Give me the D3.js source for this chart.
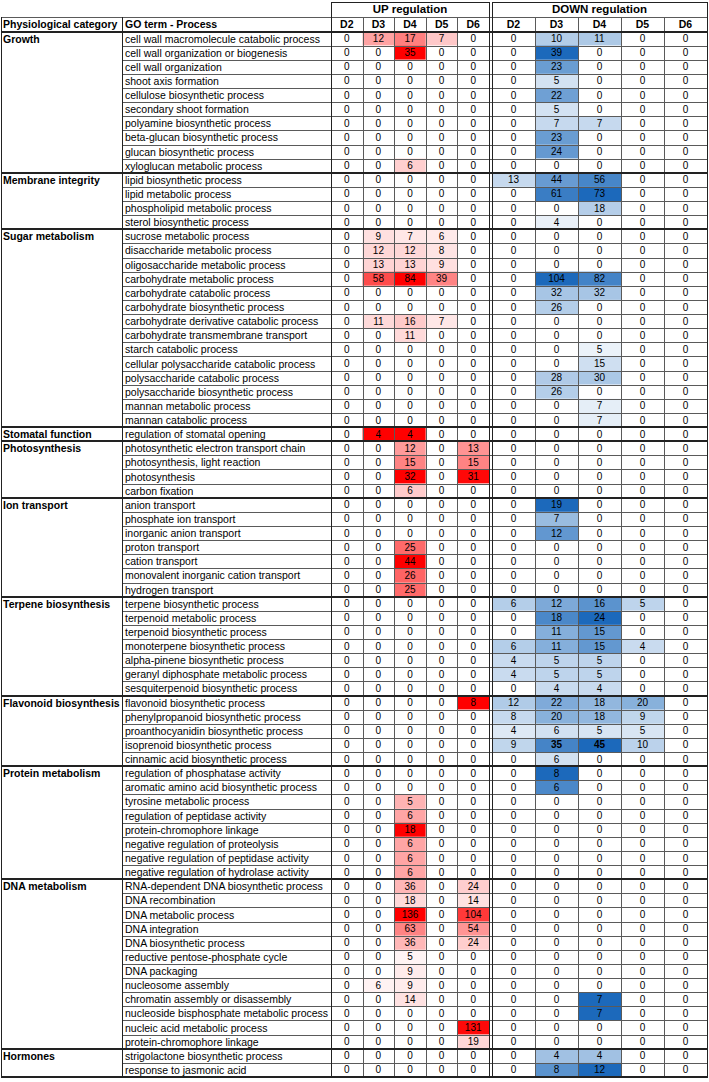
<!DOCTYPE html>
<html><head><meta charset="utf-8">
<script src="https://cdn.jsdelivr.net/npm/d3@7"></script>
<style>body{margin:0;background:#fff}svg{display:block}</style>
</head><body><svg id="c" width="709" height="1082"></svg>
<script>
const groups = ["Growth","Membrane integrity","Sugar metabolism","Stomatal function","Photosynthesis","Ion transport","Terpene biosynthesis","Flavonoid biosynthesis","Protein metabolism","DNA metabolism","Hormones"];
const groupSizes = [10,4,14,1,4,7,7,5,8,12,2];
const days = ["D2","D3","D4","D5","D6"];
const terms = [
"cell wall macromolecule catabolic process","cell wall organization or biogenesis","cell wall organization","shoot axis formation","cellulose biosynthetic process","secondary shoot formation","polyamine biosynthetic process","beta-glucan biosynthetic process","glucan biosynthetic process","xyloglucan metabolic process",
"lipid biosynthetic process","lipid metabolic process","phospholipid metabolic process","sterol biosynthetic process",
"sucrose metabolic process","disaccharide metabolic process","oligosaccharide metabolic process","carbohydrate metabolic process","carbohydrate catabolic process","carbohydrate biosynthetic process","carbohydrate derivative catabolic process","carbohydrate transmembrane transport","starch catabolic process","cellular polysaccharide catabolic process","polysaccharide catabolic process","polysaccharide biosynthetic process","mannan metabolic process","mannan catabolic process",
"regulation of stomatal opening",
"photosynthetic electron transport chain","photosynthesis, light reaction","photosynthesis","carbon fixation",
"anion transport","phosphate ion transport","inorganic anion transport","proton transport","cation transport","monovalent inorganic cation transport","hydrogen transport",
"terpene biosynthetic process","terpenoid metabolic process","terpenoid biosynthetic process","monoterpene biosynthetic process","alpha-pinene biosynthetic process","geranyl diphosphate metabolic process","sesquiterpenoid biosynthetic process",
"flavonoid biosynthetic process","phenylpropanoid biosynthetic process","proanthocyanidin biosynthetic process","isoprenoid biosynthetic process","cinnamic acid biosynthetic process",
"regulation of phosphatase activity","aromatic amino acid biosynthetic process","tyrosine metabolic process","regulation of peptidase activity","protein-chromophore linkage","negative regulation of proteolysis","negative regulation of peptidase activity","negative regulation of hydrolase activity",
"RNA-dependent DNA biosynthetic process","DNA recombination","DNA metabolic process","DNA integration","DNA biosynthetic process","reductive pentose-phosphate cycle","DNA packaging","nucleosome assembly","chromatin assembly or disassembly","nucleoside bisphosphate metabolic process","nucleic acid metabolic process","protein-chromophore linkage",
"strigolactone biosynthetic process","response to jasmonic acid"];

// UP regulation, per day (74 rows each)
const upD2 = Array(74).fill(0);
const upD3 = [12,0,0,0,0,0,0,0,0,0, 0,0,0,0, 9,12,13,58,0,0,11,0,0,0,0,0,0,0, 4, 0,0,0,0, 0,0,0,0,0,0,0, 0,0,0,0,0,0,0, 0,0,0,0,0, 0,0,0,0,0,0,0,0, 0,0,0,0,0,0,0,6,0,0,0,0, 0,0];
const upD4 = [17,35,0,0,0,0,0,0,0,6, 0,0,0,0, 7,12,13,84,0,0,16,11,0,0,0,0,0,0, 4, 12,15,32,6, 0,0,0,25,44,26,25, 0,0,0,0,0,0,0, 0,0,0,0,0, 0,0,5,6,18,6,6,6, 36,18,136,63,36,5,9,9,14,0,0,0, 0,0];
const upD5 = [7,0,0,0,0,0,0,0,0,0, 0,0,0,0, 6,8,9,39,0,0,7,0,0,0,0,0,0,0, 0, 0,0,0,0, 0,0,0,0,0,0,0, 0,0,0,0,0,0,0, 0,0,0,0,0, 0,0,0,0,0,0,0,0, 0,0,0,0,0,0,0,0,0,0,0,0, 0,0];
const upD6 = [0,0,0,0,0,0,0,0,0,0, 0,0,0,0, 0,0,0,0,0,0,0,0,0,0,0,0,0,0, 0, 13,15,31,0, 0,0,0,0,0,0,0, 0,0,0,0,0,0,0, 8,0,0,0,0, 0,0,0,0,0,0,0,0, 24,14,104,54,24,0,0,0,0,0,131,19, 0,0];
// DOWN regulation, per day
const downD2 = [0,0,0,0,0,0,0,0,0,0, 13,0,0,0, 0,0,0,0,0,0,0,0,0,0,0,0,0,0, 0, 0,0,0,0, 0,0,0,0,0,0,0, 6,0,0,6,4,4,0, 12,8,4,9,0, 0,0,0,0,0,0,0,0, 0,0,0,0,0,0,0,0,0,0,0,0, 0,0];
const downD3 = [10,39,23,5,22,5,7,23,24,0, 44,61,0,4, 0,0,0,104,32,26,0,0,0,0,28,26,0,0, 0, 0,0,0,0, 19,7,12,0,0,0,0, 12,18,11,11,5,5,4, 22,20,6,35,6, 8,6,0,0,0,0,0,0, 0,0,0,0,0,0,0,0,0,0,0,0, 4,8];
const downD4 = [11,0,0,0,0,0,7,0,0,0, 56,73,18,0, 0,0,0,82,32,0,0,0,5,15,30,0,7,7, 0, 0,0,0,0, 0,0,0,0,0,0,0, 16,24,15,15,5,5,4, 18,18,5,45,0, 0,0,0,0,0,0,0,0, 0,0,0,0,0,0,0,0,7,7,0,0, 4,12];
const downD5 = [0,0,0,0,0,0,0,0,0,0, 0,0,0,0, 0,0,0,0,0,0,0,0,0,0,0,0,0,0, 0, 0,0,0,0, 0,0,0,0,0,0,0, 5,0,0,4,0,0,0, 20,9,5,10,0, 0,0,0,0,0,0,0,0, 0,0,0,0,0,0,0,0,0,0,0,0, 0,0];
const downD6 = Array(74).fill(0);
// cells shown in bold: [row, section, dayIndex]
const boldCells = [[50,"down",1],[50,"down",2]];

const upCols = [upD2,upD3,upD4,upD5,upD6];
const downCols = [downD2,downD3,downD4,downD5,downD6];

const svg = d3.select("#c");
const FONT = "'Liberation Sans', Arial, sans-serif";
const xLeft = 1, xGO = 122, xUp0 = 331, xUp1 = 489, xDn0 = 492, xDn1 = 707;
const yTop = 2, yRow2 = 17, yData = 31.5, yBottom = 1077;
const nRows = terms.length;

const y = d3.scaleBand().domain(d3.range(nRows)).range([yData, yBottom]);
const xU = d3.scaleBand().domain(days).range([xUp0, xUp1]);
const xD = d3.scaleBand().domain(days).range([xDn0, xDn1]);

const rowGroup = [];
groupSizes.forEach((n,g)=>{for(let i=0;i<n;i++) rowGroup.push(g);});
const groupStart = [];
let acc = 0; groupSizes.forEach(n=>{groupStart.push(acc); acc+=n;});

function groupMax(cols, g){
  let m = 0;
  for (let r=groupStart[g]; r<groupStart[g]+groupSizes[g]; r++) cols.forEach(c=>{m=Math.max(m,c[r]);});
  return m;
}
const upMax = groups.map((_,g)=>groupMax(upCols,g));
const dnMax = groups.map((_,g)=>groupMax(downCols,g));
const redI = d3.interpolateRgb("#ffffff", "#ff0000");
const blueI = d3.interpolateRgb("#ffffff", "#1c69bb");

const cells = [];
for (let r=0;r<nRows;r++){
  days.forEach((d,i)=>{
    cells.push({r, sec:"up", i, day:d, v:upCols[i][r]});
    cells.push({r, sec:"down", i, day:d, v:downCols[i][r]});
  });
}
const cellG = svg.append("g");
cellG.selectAll("rect").data(cells).join("rect")
  .attr("x", c => c.sec==="up" ? xU(c.day) : xD(c.day))
  .attr("y", c => y(c.r))
  .attr("width", c => c.sec==="up" ? xU.bandwidth() : xD.bandwidth())
  .attr("height", y.bandwidth())
  .attr("fill", c => {
    if (c.v===0) return "#ffffff";
    const g = rowGroup[c.r];
    const m = c.sec==="up" ? upMax[g] : dnMax[g];
    const t = c.v/m;
    return c.sec==="up" ? redI(Math.pow(t,0.95)) : blueI(Math.pow(t,0.8));
  });

const grid = svg.append("g").attr("stroke","#5a5a5a").attr("stroke-width",1).attr("shape-rendering","crispEdges");
for (let r=1;r<nRows;r++){
  grid.append("line").attr("x1",xGO).attr("x2",xDn1).attr("y1",Math.round(y(r))+0.5).attr("y2",Math.round(y(r))+0.5);
}
days.slice(1).forEach(d=>{
  grid.append("line").attr("x1",Math.round(xU(d))+0.5).attr("x2",Math.round(xU(d))+0.5).attr("y1",yRow2).attr("y2",yBottom);
  grid.append("line").attr("x1",Math.round(xD(d))+0.5).attr("x2",Math.round(xD(d))+0.5).attr("y1",yRow2).attr("y2",yBottom);
});
grid.append("line").attr("x1",xLeft).attr("x2",xDn1).attr("y1",yRow2+0.5).attr("y2",yRow2+0.5);

const dark = svg.append("g").attr("stroke","#222").attr("shape-rendering","crispEdges");
[[xLeft,yRow2],[xGO,yRow2],[xUp0,yTop],[xUp1,yTop],[xDn0,yTop],[xDn1,yTop]].forEach(([x,y0])=>{
  dark.append("line").attr("x1",x+0.5).attr("x2",x+0.5).attr("y1",y0).attr("y2",yBottom).attr("stroke-width",1);
});
dark.append("line").attr("x1",xUp0).attr("x2",xUp1+1).attr("y1",yTop+0.5).attr("y2",yTop+0.5);
dark.append("line").attr("x1",xDn0).attr("x2",xDn1+1).attr("y1",yTop+0.5).attr("y2",yTop+0.5);
dark.append("line").attr("x1",xLeft).attr("x2",xDn1+1).attr("y1",yData).attr("y2",yData).attr("stroke-width",2);
groupStart.slice(1).forEach(s=>{
  dark.append("line").attr("x1",xLeft).attr("x2",xDn1+1).attr("y1",Math.round(y(s))).attr("y2",Math.round(y(s))).attr("stroke-width",2);
});
dark.append("line").attr("x1",xLeft).attr("x2",xDn1+1).attr("y1",yBottom).attr("y2",yBottom).attr("stroke-width",2);

const txt = svg.append("g").attr("font-family",FONT).attr("fill","#000");
txt.append("text").attr("x",(xUp0+xUp1)/2).attr("y",yTop+11).attr("text-anchor","middle").attr("font-weight","bold").attr("font-size",11.5).text("UP regulation");
txt.append("text").attr("x",(xDn0+xDn1)/2).attr("y",yTop+11).attr("text-anchor","middle").attr("font-weight","bold").attr("font-size",11.5).text("DOWN regulation");
txt.append("text").attr("x",3).attr("y",yRow2+11).attr("font-weight","bold").attr("font-size",10.5).text("Physiological category");
txt.append("text").attr("x",xGO+3).attr("y",yRow2+11).attr("font-weight","bold").attr("font-size",10.5).text("GO term - Process");
days.forEach(d=>{
  txt.append("text").attr("x",xU(d)+xU.bandwidth()/2).attr("y",yRow2+11).attr("text-anchor","middle").attr("font-weight","bold").attr("font-size",10.5).text(d);
  txt.append("text").attr("x",xD(d)+xD.bandwidth()/2).attr("y",yRow2+11).attr("text-anchor","middle").attr("font-weight","bold").attr("font-size",10.5).text(d);
});
txt.selectAll("text.grp").data(groups).join("text").attr("class","grp")
  .attr("x",3).attr("y",(g,i)=>y(groupStart[i])+y.bandwidth()/2+4)
  .attr("font-weight","bold").attr("font-size",10.5).text(g=>g);
txt.selectAll("text.term").data(terms).join("text").attr("class","term")
  .attr("x",xGO+3).attr("y",(t,i)=>y(i)+y.bandwidth()/2+4)
  .attr("font-size",10.5).text(t=>t);
txt.selectAll("text.val").data(cells).join("text").attr("class","val")
  .attr("x", c => c.sec==="up" ? xU(c.day)+xU.bandwidth()/2 : xD(c.day)+xD.bandwidth()/2)
  .attr("y", c => y(c.r)+y.bandwidth()/2+3.5)
  .attr("text-anchor","middle").attr("font-size",10)
  .attr("font-weight", c => boldCells.some(b=>b[0]===c.r&&b[1]===c.sec&&b[2]===c.i) ? "bold" : "normal")
  .text(c=>c.v);
</script></body></html>
